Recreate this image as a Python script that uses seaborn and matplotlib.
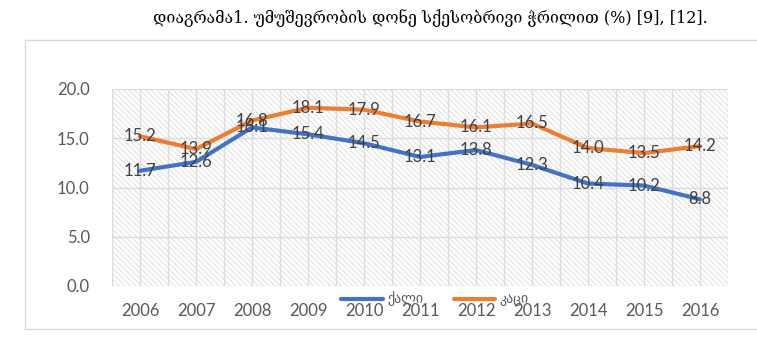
import matplotlib
matplotlib.use("Agg")
import matplotlib.pyplot as plt
import seaborn as sns
import pandas as pd
from matplotlib.patches import Rectangle
from matplotlib.lines import Line2D

years = ["2006", "2007", "2008", "2009", "2010", "2011", "2012", "2013", "2014", "2015", "2016"]
female = [11.7, 12.6, 16.1, 15.4, 14.5, 13.1, 13.8, 12.3, 10.4, 10.2, 8.8]
male = [15.2, 13.9, 16.8, 18.1, 17.9, 16.7, 16.1, 16.5, 14.0, 13.5, 14.2]
series_names = ["ქალი", "კაცი"]
title = "დიაგრამა1. უმუშევრობის დონე სქესობრივი ჭრილით (%) [9], [12]."
y_ticks = [0, 5, 10, 15, 20]

sns.set_theme(style="white")
plt.rcParams["font.family"] = ["Lato", "DejaVu Sans"]
plt.rcParams["hatch.linewidth"] = 0.6
plt.rcParams["hatch.color"] = "#dadada"

colors = {"ქალი": "#4472C4", "კაცი": "#ED7D31"}

df = pd.DataFrame({
    "idx": list(range(len(years))) * 2,
    "value": female + male,
    "series": [series_names[0]] * len(years) + [series_names[1]] * len(years),
})

fig = plt.figure(figsize=(7.57, 3.45), dpi=100)
ax = fig.add_axes([112 / 757, 1 - 286 / 345, (728 - 112) / 757, (286 - 89) / 345])

# outer chart border (left, top, bottom; right edge lies outside the image)
bl, bt, bb = 25 / 757, 1 - 40 / 345, 1 - 329 / 345
for xs, ys in (([bl, bl], [bb, bt]), ([bl, 1.0], [bt, bt]), ([bl, 1.0], [bb, bb])):
    fig.add_artist(Line2D(xs, ys, transform=fig.transFigure, color="#d9d9d9",
                          linewidth=1.0, zorder=0))

# hatched plot area
ax.add_patch(Rectangle((0, 0), 1, 1, transform=ax.transAxes, facecolor="white",
                       hatch="\\\\\\\\\\\\", edgecolor="#dadada", linewidth=0, zorder=0))

sns.lineplot(data=df, x="idx", y="value", hue="series", palette=colors,
             linewidth=3, ax=ax, legend=False, zorder=3)

# grid lines
for xv in [i * 0.5 - 0.5 for i in range(2 * len(years) + 1)]:
    ax.axvline(xv, color="#dcdcdc", linewidth=1.0, zorder=1)
for yv in y_ticks:
    ax.axhline(yv, color="#dcdcdc", linewidth=1.0, zorder=1)

# data labels
for vals in (female, male):
    for i, v in enumerate(vals):
        ax.text(i, v, f"{v:.1f}", ha="center", va="center", fontsize=12,
                color="#404040", zorder=4)

ax.set_xlim(-0.5, len(years) - 0.5)
ax.set_ylim(0, 20)
ax.set_xticks(range(len(years)))
ax.set_xticklabels(years)
ax.set_yticks(y_ticks)
ax.set_yticklabels([f"{t:.1f}" for t in y_ticks])
ax.tick_params(axis="both", length=0, labelsize=12, labelcolor="#595959")
ax.tick_params(axis="x", pad=12)
ax.tick_params(axis="y", pad=16)
ax.set_xlabel("")
ax.set_ylabel("")
for s in ax.spines.values():
    s.set_visible(False)

handles = [Line2D([0], [0], color=colors[n], linewidth=3) for n in series_names]
fig.legend(handles, series_names, loc="center", bbox_to_anchor=(435 / 757, 1 - 299 / 345),
           ncol=2, frameon=False, fontsize=10, handlelength=3.0, columnspacing=2.2,
           handletextpad=0.3, labelcolor="#595959")

fig.text(430 / 757, 1 - 18 / 345, title, ha="center", va="center", fontsize=11.5,
         family=["DejaVu Serif", "DejaVu Sans"], color="black")

fig.savefig("out.png", dpi=100)
